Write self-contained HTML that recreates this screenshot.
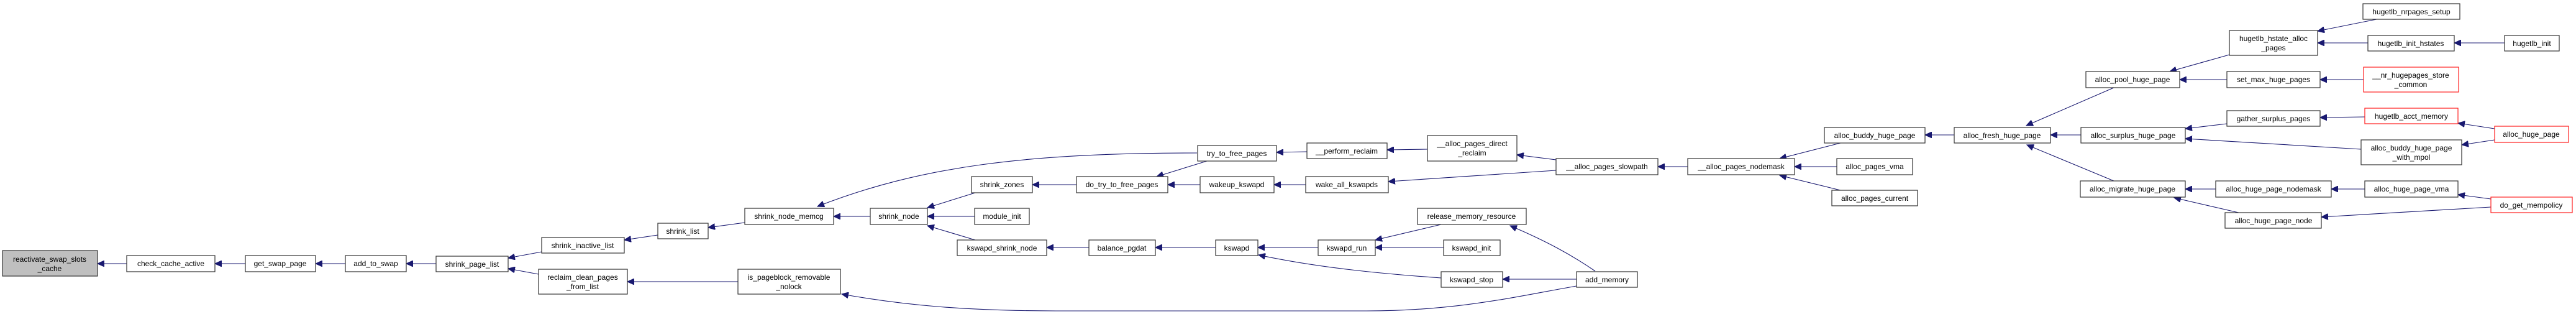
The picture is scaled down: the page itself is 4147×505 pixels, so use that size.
<!DOCTYPE html>
<html><head><meta charset="utf-8"><style>
html,body{margin:0;padding:0;background:#fff;}
svg{display:block;}
text{font-family:"Liberation Sans",Helvetica,Arial,sans-serif;font-size:12px;fill:#000;text-anchor:middle;}
.b{fill:#fff;stroke:#333;stroke-width:1.2;}
.r{fill:#fff;stroke:#ff2020;stroke-width:1.2;}
.g{fill:#bfbfbf;stroke:#333;stroke-width:1.2;}
path{fill:none;stroke:#191970;stroke-width:1.1;marker-end:url(#a);}
</style></head><body>
<svg width="4147" height="505" viewBox="0 0 4147 505" xmlns="http://www.w3.org/2000/svg">
<defs><marker id="a" markerUnits="userSpaceOnUse" markerWidth="12" markerHeight="10" refX="11" refY="5" orient="auto"><polygon points="0,0 11,5 0,10" fill="#191970" stroke="#191970"/></marker></defs>

<!-- edges -->
<path d="M204,424 L157,424"/>
<path d="M395,424 L346,424"/>
<path d="M556,424 L508,424"/>
<path d="M702,424 L654,424"/>
<path d="M872,405 L818,415"/>
<path d="M867,441 L818,432"/>
<path d="M1059,378 L1005,386"/>
<path d="M1199,358 L1140,366"/>
<path d="M1401,348 L1342,348"/>
<path d="M1927,246 C1650,246 1480,268 1316,332"/>
<path d="M1188,453 L1010,453"/>
<path d="M2538,460 C2450,475 2350,500 2200,500 L1700,500 C1550,500 1450,490 1355,473"/>
<path d="M1570,310 L1493,334"/>
<path d="M1569,348 L1493,348"/>
<path d="M1570,386 L1493,363"/>
<path d="M1733,297 L1662,297"/>
<path d="M1943,259 L1862,284"/>
<path d="M1932,297 L1880,297"/>
<path d="M1753,398 L1685,398"/>
<path d="M1957,398 L1860,398"/>
<path d="M2104,244 L2055,245"/>
<path d="M2298,240 L2233,241"/>
<path d="M2102,297 L2051,297"/>
<path d="M2122,398 L2025,398"/>
<path d="M2320,447 C2220,440 2120,430 2026,410"/>
<path d="M2320,361 L2214,386"/>
<path d="M2324,398 L2214,398"/>
<path d="M2568,436 C2530,410 2490,388 2431,363"/>
<path d="M2538,449 L2419,449"/>
<path d="M2505,257 L2442,249"/>
<path d="M2505,274 L2235,292"/>
<path d="M2717,268 L2669,268"/>
<path d="M2963,230 L2865,255"/>
<path d="M2957,268 L2889,268"/>
<path d="M2963,306 L2865,282"/>
<path d="M3146,217 L3099,217"/>
<path d="M3403,141 L3262,202"/>
<path d="M3350,217 L3301,217"/>
<path d="M3403,291 L3263,233"/>
<path d="M3589,88 L3493,115"/>
<path d="M3585,128 L3509,128"/>
<path d="M3585,199 L3518,207"/>
<path d="M3801,240 L3518,223"/>
<path d="M3567,304 L3518,304"/>
<path d="M3604,342 L3500,318"/>
<path d="M3826,31 L3731,50"/>
<path d="M3812,69 L3731,69"/>
<path d="M4032,69 L3951,69"/>
<path d="M3805,128 L3735,128"/>
<path d="M3807,188 L3735,189"/>
<path d="M4016,207 L3957,198"/>
<path d="M4016,225 L3963,233"/>
<path d="M3807,304 L3753,304"/>
<path d="M4010,320 L3957,313"/>
<path d="M4010,333 L3737,349"/>

<!-- nodes -->
<rect class="g" x="4" y="403" width="153" height="41"/><text x="80" y="421">reactivate_swap_slots</text><text x="80" y="436">_cache</text>
<rect class="b" x="204" y="411" width="142" height="26"/><text x="275" y="428">check_cache_active</text>
<rect class="b" x="395" y="411" width="113" height="26"/><text x="451" y="428">get_swap_page</text>
<rect class="b" x="556" y="411" width="98" height="26"/><text x="605" y="428">add_to_swap</text>
<rect class="b" x="702" y="412" width="116" height="25"/><text x="760" y="429">shrink_page_list</text>
<rect class="b" x="872" y="382" width="133" height="25"/><text x="938" y="399">shrink_inactive_list</text>
<rect class="b" x="867" y="433" width="143" height="40"/><text x="938" y="450">reclaim_clean_pages</text><text x="938" y="465">_from_list</text>
<rect class="b" x="1059" y="359" width="81" height="25"/><text x="1099" y="376">shrink_list</text>
<rect class="b" x="1199" y="335" width="143" height="26"/><text x="1270" y="352">shrink_node_memcg</text>
<rect class="b" x="1188" y="433" width="165" height="40"/><text x="1270" y="450">is_pageblock_removable</text><text x="1270" y="465">_nolock</text>
<rect class="b" x="1401" y="335" width="92" height="26"/><text x="1447" y="352">shrink_node</text>
<rect class="b" x="1564" y="284" width="98" height="26"/><text x="1613" y="301">shrink_zones</text>
<rect class="b" x="1569" y="335" width="88" height="26"/><text x="1613" y="352">module_init</text>
<rect class="b" x="1541" y="386" width="144" height="25"/><text x="1613" y="403">kswapd_shrink_node</text>
<rect class="b" x="1733" y="284" width="147" height="26"/><text x="1806" y="301">do_try_to_free_pages</text>
<rect class="b" x="1753" y="386" width="107" height="25"/><text x="1806" y="403">balance_pgdat</text>
<rect class="b" x="1928" y="234" width="127" height="25"/><text x="1991" y="251">try_to_free_pages</text>
<rect class="b" x="1932" y="284" width="119" height="26"/><text x="1991" y="301">wakeup_kswapd</text>
<rect class="b" x="1957" y="386" width="68" height="25"/><text x="1991" y="403">kswapd</text>
<rect class="b" x="2104" y="230" width="129" height="25"/><text x="2168" y="247">__perform_reclaim</text>
<rect class="b" x="2102" y="284" width="133" height="26"/><text x="2168" y="301">wake_all_kswapds</text>
<rect class="b" x="2122" y="386" width="92" height="25"/><text x="2168" y="403">kswapd_run</text>
<rect class="b" x="2298" y="218" width="144" height="41"/><text x="2370" y="235">__alloc_pages_direct</text><text x="2370" y="250">_reclaim</text>
<rect class="b" x="2282" y="335" width="175" height="26"/><text x="2369" y="352">release_memory_resource</text>
<rect class="b" x="2324" y="386" width="91" height="25"/><text x="2369" y="403">kswapd_init</text>
<rect class="b" x="2320" y="437" width="99" height="25"/><text x="2369" y="454">kswapd_stop</text>
<rect class="b" x="2505" y="255" width="164" height="26"/><text x="2587" y="272">__alloc_pages_slowpath</text>
<rect class="b" x="2538" y="437" width="98" height="25"/><text x="2587" y="454">add_memory</text>
<rect class="b" x="2717" y="255" width="172" height="26"/><text x="2803" y="272">__alloc_pages_nodemask</text>
<rect class="b" x="2937" y="205" width="162" height="25"/><text x="3018" y="222">alloc_buddy_huge_page</text>
<rect class="b" x="2957" y="255" width="122" height="26"/><text x="3018" y="272">alloc_pages_vma</text>
<rect class="b" x="2949" y="306" width="138" height="25"/><text x="3018" y="323">alloc_pages_current</text>
<rect class="b" x="3146" y="205" width="155" height="25"/><text x="3223" y="222">alloc_fresh_huge_page</text>
<rect class="b" x="3358" y="115" width="151" height="26"/><text x="3433" y="132">alloc_pool_huge_page</text>
<rect class="b" x="3350" y="205" width="168" height="25"/><text x="3434" y="222">alloc_surplus_huge_page</text>
<rect class="b" x="3349" y="291" width="169" height="26"/><text x="3433" y="308">alloc_migrate_huge_page</text>
<rect class="b" x="3589" y="49" width="142" height="40"/><text x="3660" y="66">hugetlb_hstate_alloc</text><text x="3660" y="81">_pages</text>
<rect class="b" x="3585" y="115" width="150" height="26"/><text x="3660" y="132">set_max_huge_pages</text>
<rect class="b" x="3585" y="178" width="150" height="25"/><text x="3660" y="195">gather_surplus_pages</text>
<rect class="b" x="3567" y="291" width="186" height="26"/><text x="3660" y="308">alloc_huge_page_nodemask</text>
<rect class="b" x="3582" y="342" width="155" height="25"/><text x="3660" y="359">alloc_huge_page_node</text>
<rect class="b" x="3804" y="6" width="156" height="25"/><text x="3882" y="23">hugetlb_nrpages_setup</text>
<rect class="b" x="3812" y="57" width="139" height="25"/><text x="3881" y="74">hugetlb_init_hstates</text>
<rect class="r" x="3805" y="108" width="153" height="40"/><text x="3881" y="125">__nr_hugepages_store</text><text x="3881" y="140">_common</text>
<rect class="r" x="3807" y="174" width="150" height="25"/><text x="3882" y="191">hugetlb_acct_memory</text>
<rect class="b" x="3801" y="225" width="162" height="40"/><text x="3882" y="242">alloc_buddy_huge_page</text><text x="3882" y="257">_with_mpol</text>
<rect class="b" x="3807" y="291" width="150" height="26"/><text x="3882" y="308">alloc_huge_page_vma</text>
<rect class="b" x="4032" y="57" width="88" height="25"/><text x="4076" y="74">hugetlb_init</text>
<rect class="r" x="4016" y="203" width="119" height="26"/><text x="4075" y="220">alloc_huge_page</text>
<rect class="r" x="4010" y="317" width="131" height="25"/><text x="4075" y="334">do_get_mempolicy</text>
</svg>
</body></html>
